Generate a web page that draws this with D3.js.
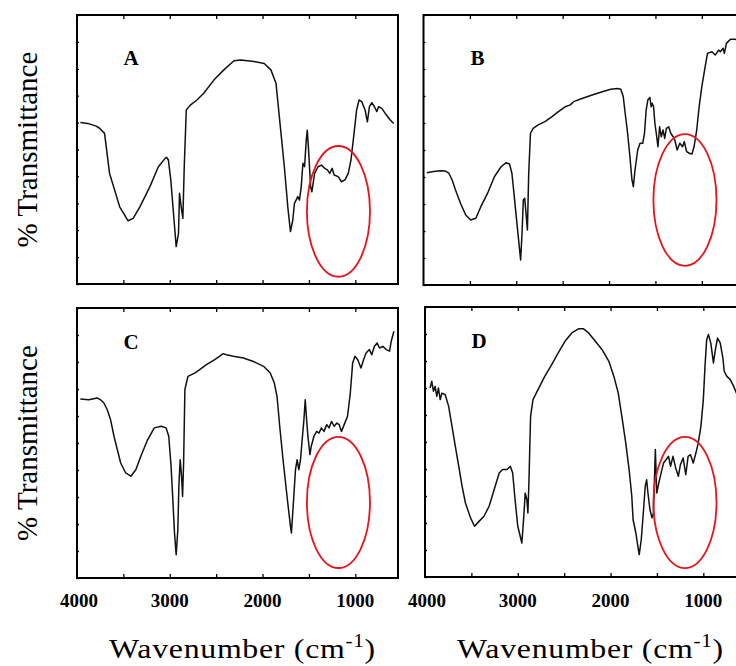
<!DOCTYPE html>
<html>
<head>
<meta charset="utf-8">
<script src="https://cdn.jsdelivr.net/npm/d3@7"></script>
<style>
  body { margin: 0; background: #fff; }
  svg { display: block; }
  text { font-family: "Liberation Serif", "Times New Roman", serif; fill: #000; }
</style>
</head>
<body>
<script>
var w = 736
var h = 666

// tick labels and minor ticks (cm-1)
var tickLabels = [4000, 3000, 2000, 1000]
var minorTicks = [3500, 3000, 2500, 2000, 1500, 1000]
var panelLetters = ["A", "B", "C", "D"]

// spectra, [wavenumber, relative transmittance 0-100]
var specA = [[3964,60.0],[3884,59.7],[3793,58.7],[3757,57.9],[3703,56.0],[3685,51.1],[3649,41.1],[3594,34.9],[3540,28.7],[3449,23.5],[3395,24.4],[3322,28.7],[3214,36.2],[3123,43.6],[3050,46.7],[3033,47.1],[3015,46.1],[2989,38.7],[2960,26.3],[2931,13.9],[2906,18.8],[2895,33.7],[2877,28.7],[2859,24.4],[2844,43.6],[2822,64.7],[2779,66.5],[2707,68.4],[2634,70.9],[2525,75.8],[2417,79.6],[2308,83.0],[2236,83.3],[2091,82.7],[1982,82.0],[1910,79.6],[1855,74.6],[1837,68.4],[1801,56.0],[1765,43.6],[1728,28.7],[1699,19.5],[1674,23.8],[1656,30.0],[1620,32.5],[1602,31.2],[1583,36.2],[1565,44.9],[1547,43.6],[1529,53.5],[1518,57.2],[1504,49.8],[1482,36.2],[1468,34.3],[1439,41.1],[1402,43.6],[1366,44.2],[1330,43.0],[1301,42.4],[1276,41.1],[1250,43.0],[1228,40.5],[1185,39.9],[1149,38.0],[1112,38.7],[1076,41.1],[1047,46.1],[1022,53.5],[986,64.7],[960,68.4],[931,67.8],[895,64.7],[870,60.3],[848,65.9],[822,67.4],[794,65.9],[768,64.1],[750,65.9],[714,65.3],[678,63.4],[623,61.0],[587,59.7]]

var specB = [[3964,41.6],[3891,42.0],[3818,42.3],[3764,42.2],[3727,41.4],[3691,38.9],[3655,35.2],[3600,30.2],[3545,25.9],[3491,24.1],[3436,24.7],[3382,29.0],[3309,34.0],[3236,40.1],[3164,43.8],[3109,45.3],[3073,44.8],[3047,41.4],[3018,31.5],[2982,19.1],[2953,9.3],[2938,19.1],[2924,31.5],[2909,32.1],[2895,26.5],[2880,20.4],[2866,41.4],[2847,56.2],[2818,58.0],[2764,59.3],[2691,60.5],[2618,62.3],[2546,64.2],[2473,66.0],[2418,66.7],[2382,67.9],[2291,69.1],[2182,70.4],[2073,71.6],[1982,72.5],[1909,72.8],[1873,72.5],[1847,69.8],[1826,63.6],[1800,56.2],[1775,47.5],[1753,38.9],[1738,36.4],[1720,42.6],[1691,50.0],[1666,52.5],[1637,52.5],[1618,56.2],[1600,64.8],[1582,68.5],[1560,69.5],[1546,66.0],[1535,67.3],[1520,66.0],[1506,59.9],[1491,56.2],[1473,51.2],[1455,58.6],[1437,54.9],[1418,57.4],[1400,54.3],[1382,58.0],[1357,58.6],[1335,56.2],[1309,54.9],[1291,53.7],[1266,50.0],[1237,52.5],[1208,51.2],[1189,53.1],[1164,49.4],[1135,48.8],[1106,48.5],[1084,51.2],[1055,57.4],[1029,66.0],[1000,73.5],[964,80.9],[939,85.8],[891,86.4],[855,85.2],[818,87.0],[800,86.4],[771,87.7],[757,85.8],[735,89.5],[691,91.0],[637,91.0],[600,90.1]]

var specC = [[3964,66.3],[3873,66.0],[3783,66.7],[3746,66.0],[3710,64.8],[3674,62.3],[3638,58.6],[3601,52.5],[3565,47.5],[3529,42.6],[3475,38.9],[3420,37.7],[3366,40.1],[3312,45.1],[3239,51.2],[3167,55.6],[3094,56.2],[3040,55.6],[3011,52.5],[2986,41.4],[2967,29.0],[2949,16.7],[2931,8.6],[2913,17.9],[2902,34.0],[2888,43.8],[2873,37.7],[2862,30.2],[2851,42.6],[2837,69.8],[2804,74.7],[2732,75.9],[2678,77.2],[2605,79.0],[2515,80.9],[2424,83.1],[2388,82.7],[2315,82.1],[2207,81.5],[2098,80.2],[1989,78.4],[1917,75.9],[1873,72.2],[1844,67.3],[1815,56.2],[1779,43.8],[1736,30.2],[1699,19.1],[1689,16.7],[1670,26.5],[1645,40.1],[1627,43.8],[1609,40.1],[1591,43.8],[1573,51.2],[1554,58.6],[1540,66.0],[1525,58.6],[1511,52.5],[1489,45.7],[1475,48.8],[1446,52.5],[1417,54.3],[1391,53.7],[1366,55.6],[1337,54.3],[1308,56.8],[1283,55.6],[1257,58.0],[1228,56.2],[1199,57.4],[1174,56.8],[1149,54.3],[1120,56.8],[1084,59.9],[1054,68.5],[1029,79.6],[1004,82.1],[975,80.9],[939,77.8],[910,80.9],[884,83.3],[848,84.6],[823,82.7],[794,85.8],[765,87.0],[739,85.2],[703,85.8],[667,84.6],[631,84.0],[613,87.7],[584,91.4]]

var specD = [[3945,70.0],[3927,72.5],[3909,68.8],[3891,70.6],[3873,66.9],[3855,70.0],[3836,65.7],[3818,68.1],[3782,67.5],[3745,63.2],[3709,55.8],[3673,48.4],[3636,41.0],[3600,33.6],[3564,27.4],[3509,21.9],[3466,18.8],[3418,20.6],[3364,22.5],[3309,26.2],[3255,32.3],[3200,38.5],[3164,39.8],[3116,39.8],[3080,41.0],[3055,38.5],[3029,28.6],[3000,18.8],[2956,12.6],[2935,22.5],[2920,31.1],[2902,28.6],[2891,23.7],[2880,34.8],[2862,59.5],[2836,65.7],[2782,69.4],[2709,74.3],[2636,78.6],[2564,83.0],[2491,87.3],[2418,90.4],[2346,91.9],[2291,91.9],[2236,90.4],[2164,87.3],[2091,84.2],[2018,79.9],[1964,74.3],[1917,68.1],[1873,58.3],[1836,49.6],[1800,39.8],[1771,29.9],[1757,21.2],[1727,16.3],[1706,11.4],[1691,8.3],[1669,13.8],[1647,23.7],[1626,33.6],[1611,36.0],[1597,31.1],[1575,24.9],[1553,21.9],[1538,23.7],[1517,47.2],[1502,31.1],[1480,34.8],[1455,38.5],[1429,42.2],[1400,43.5],[1375,44.7],[1353,41.0],[1327,44.7],[1298,40.4],[1269,37.3],[1247,41.6],[1218,44.1],[1189,37.9],[1164,44.7],[1138,45.3],[1109,42.2],[1080,45.9],[1055,49.6],[1026,55.8],[1000,65.7],[982,78.0],[964,87.9],[945,89.8],[920,86.7],[891,79.3],[873,83.6],[847,88.5],[818,86.7],[789,81.1],[775,76.2],[746,74.3],[709,73.1],[673,70.6],[636,67.5],[607,66.3]]

var spectra = [specA, specB, specC, specD]

// red circled regions: [centre wavenumber, centre T, half width cm-1, half height T]
var circles = [[1182, 27.0, 340, 24.3], [1182, 31.5, 340, 24.4], [1182, 28.0, 340, 24.3], [1198, 27.6, 340, 24.3]]

var panels = [
    {x0: 77, y0: 15, y1: 284},
    {x0: 423.5, y0: 15, y1: 285},
    {x0: 77, y0: 308, y1: 578},
    {x0: 425, y0: 307, y1: 577}
]
var pw = 321

var svg = d3.select("body")
    .append("svg")
    .attr("width", w)
    .attr("height", h)

panels.forEach(function (p, i) {
    var x = d3.scaleLinear().domain([4000, 540]).range([p.x0, p.x0 + pw])
    var y = d3.scaleLinear().domain([0, 100]).range([p.y1, p.y0])
    var g = svg.append("g")

    // inner ticks top / bottom / left
    g.append("g")
        .attr("transform", "translate(0," + p.y1 + ")")
        .call(d3.axisTop(x).tickValues(minorTicks).tickSize(4).tickFormat(""))
        .call(function (a) { a.select(".domain").remove() })
    g.append("g")
        .attr("transform", "translate(0," + p.y0 + ")")
        .call(d3.axisBottom(x).tickValues(minorTicks).tickSize(4).tickFormat(""))
        .call(function (a) { a.select(".domain").remove() })
    g.append("g")
        .attr("transform", "translate(" + p.x0 + ",0)")
        .call(d3.axisRight(y).ticks(10).tickSize(2).tickFormat(""))
        .call(function (a) { a.select(".domain").remove() })
    g.selectAll(".tick line").attr("stroke", "#000").attr("stroke-width", 1.3)

    // frame
    g.append("rect")
        .attr("x", p.x0)
        .attr("y", p.y0)
        .attr("width", pw)
        .attr("height", p.y1 - p.y0)
        .attr("fill", "none")
        .attr("stroke", "#000")
        .attr("stroke-width", 2)

    var line = d3.line()
        .x(function (d) { return x(d[0]) })
        .y(function (d) { return y(d[1]) })

    g.append("path")
        .datum(spectra[i])
        .attr("d", line)
        .attr("fill", "none")
        .attr("stroke", "#111")
        .attr("stroke-width", 1.5)
        .attr("stroke-linejoin", "round")

    var c = circles[i]
    g.append("ellipse")
        .attr("cx", x(c[0]))
        .attr("cy", y(c[1]))
        .attr("rx", Math.abs(x(c[0] - c[2]) - x(c[0])))
        .attr("ry", Math.abs(y(c[1] + c[3]) - y(c[1])))
        .attr("fill", "none")
        .attr("stroke", "#e8141b")
        .attr("stroke-width", 1.8)

    g.append("text")
        .attr("x", p.x0 + 54)
        .attr("y", p.y0 + (i < 2 ? 50 : 41))
        .attr("text-anchor", "middle")
        .style("font-size", "21px")
        .style("font-weight", "bold")
        .text(panelLetters[i])

    // bottom row: tick labels and axis title
    if (i >= 2) {
        g.selectAll(".lab")
            .data(tickLabels)
            .enter()
            .append("text")
            .attr("x", function (d) { return x(d) + (d == 4000 ? 2 : 0) })
            .attr("y", 607)
            .attr("text-anchor", "middle")
            .style("font-size", "19px")
            .style("font-weight", "bold")
            .text(function (d) { return d })

        // the printed title is a little wider than the font, so stretch it
        var t = g.append("text")
            .attr("transform", "translate(" + (p.x0 + pw / 2 + 5) + ",658) scale(1.18,1)")
            .attr("text-anchor", "middle")
            .style("font-size", "27px")
            .style("letter-spacing", "0.6px")
        t.append("tspan").text("Wavenumber (cm")
        t.append("tspan").attr("dy", -11).style("font-size", "18px").text("-1")
        t.append("tspan").attr("dy", 11).text(")")
    }

    if (i % 2 == 0) {
        g.append("text")
            .attr("transform", "translate(37," + ((p.y0 + p.y1) / 2) + ") rotate(-90)")
            .attr("text-anchor", "middle")
            .style("font-size", "29px")
            .text("% Transmittance")
    }
})
</script>
</body>
</html>
